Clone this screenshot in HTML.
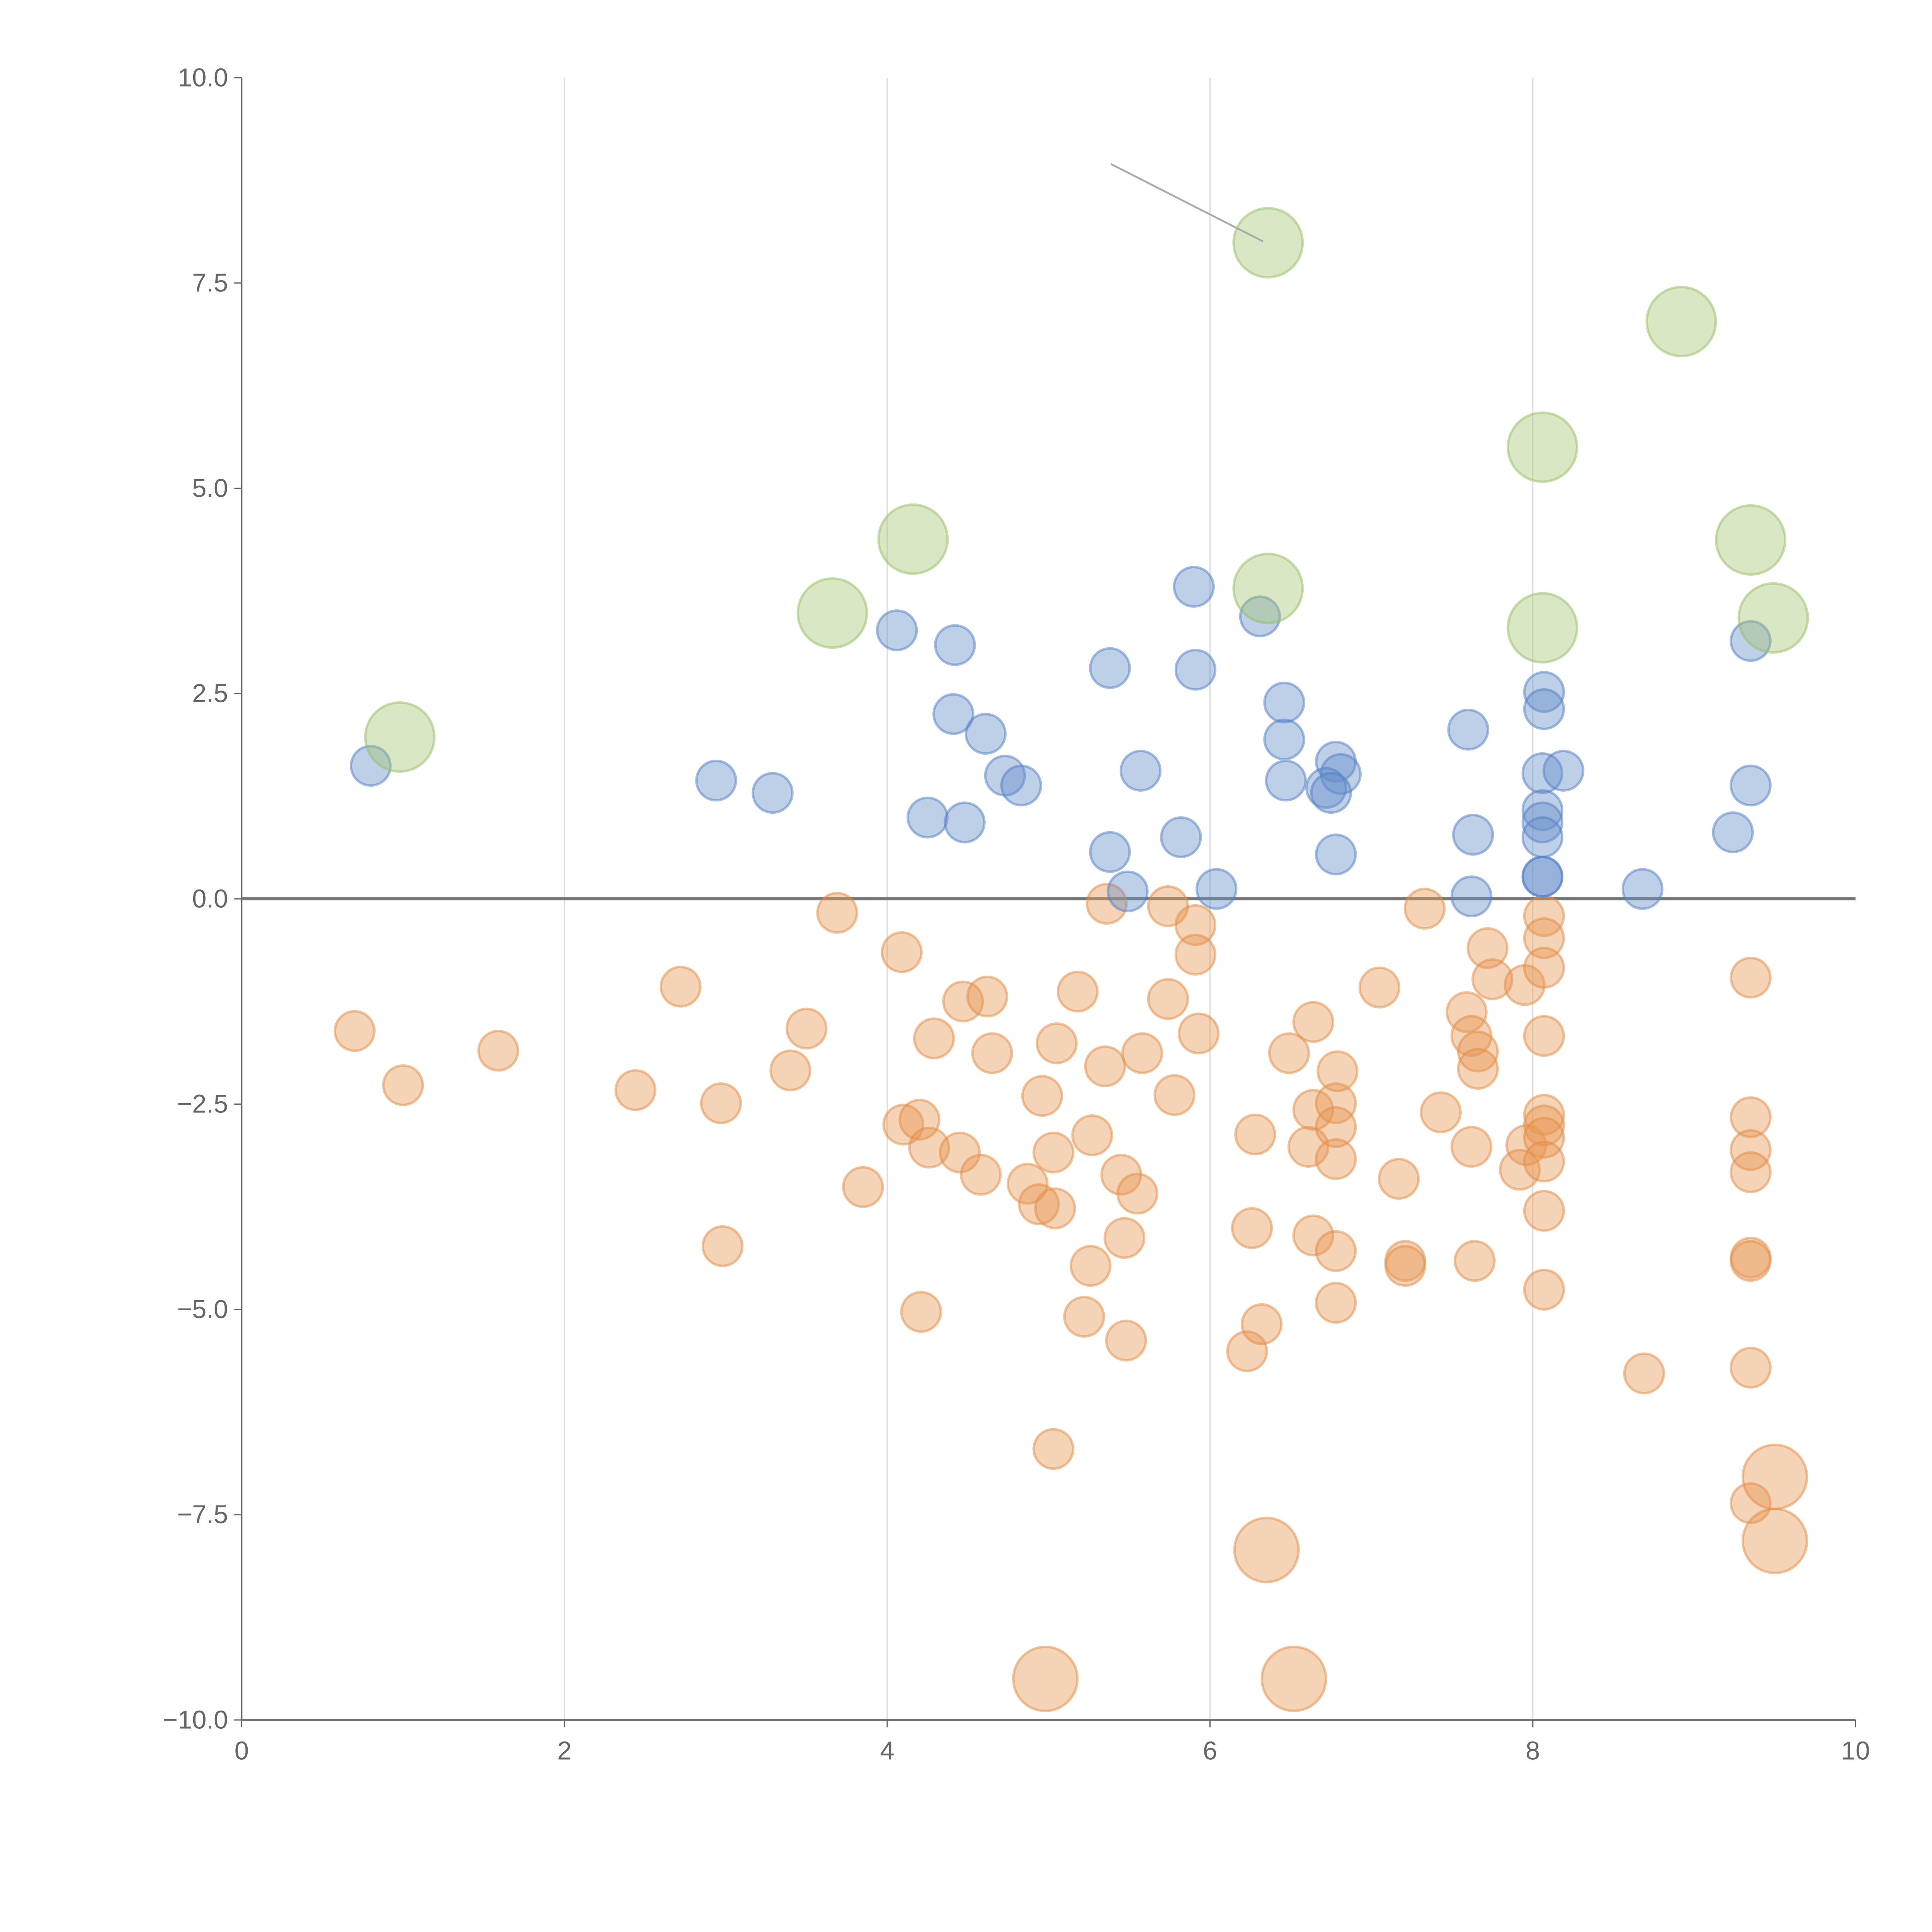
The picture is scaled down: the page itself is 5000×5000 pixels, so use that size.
<!DOCTYPE html>
<html><head><meta charset="utf-8"><style>
html,body{margin:0;padding:0;background:#fff;}
svg{display:block;}
text{font-family:"Liberation Sans",sans-serif;fill:#666;}
</style></head><body>
<svg id="chart" width="5000" height="5000" viewBox="0 0 1567 1567" xmlns="http://www.w3.org/2000/svg">
<g id="grid"></g>
<g id="axes"></g>
<g id="marks"></g>
</svg>
<script>
const xTicks=[0,2,4,6,8,10];
const yTicks=[10,7.5,5,2.5,0,-2.5,-5,-7.5,-10];
const yTickLabels=["10.0","7.5","5.0","2.5","0.0","\u22122.5","\u22125.0","\u22127.5","\u221210.0"];
const blueX=[0.80,2.94,3.29,4.06,4.42,4.41,4.61,4.25,4.48,4.73,4.83,5.38,5.90,6.31,5.91,5.57,5.82,5.38,5.49,6.04,6.46,6.46,6.47,6.78,6.81,6.72,6.75,6.78,7.60,7.63,7.62,8.07,8.07,8.06,8.19,8.06,8.06,8.06,8.06,8.06,8.68,9.24,9.35,9.35];
const blueY=[1.62,1.44,1.29,3.27,3.09,2.25,2.01,0.99,0.93,1.50,1.38,2.81,3.80,3.44,2.79,1.56,0.75,0.57,0.09,0.12,2.39,1.94,1.44,1.67,1.52,1.35,1.29,0.54,2.06,0.78,0.03,2.52,2.31,1.53,1.56,1.08,0.93,0.75,0.27,0.27,0.12,0.81,1.38,3.14];
const greenX=[0.98,3.66,4.16,6.36,6.36,8.06,8.06,8.92,9.35,9.49];
const greenY=[1.97,3.48,4.38,7.99,3.78,5.50,3.30,7.03,4.37,3.42];
const orangeX=[0.70,1.00,1.59,2.44,2.72,2.97,2.98,3.40,3.50,3.69,3.85,4.09,4.10,4.20,4.26,4.29,4.21,4.45,4.47,4.58,4.62,4.65,4.87,4.94,4.96,5.03,5.04,5.05,5.03,5.18,5.22,5.26,5.27,5.35,5.36,5.45,5.47,5.48,5.55,5.58,5.74,5.74,5.78,5.91,5.91,5.93,6.23,6.26,6.28,6.32,6.49,6.61,6.64,6.64,6.64,6.78,6.79,6.78,6.78,6.78,6.78,7.05,7.17,7.21,7.21,7.33,7.43,7.59,7.62,7.66,7.66,7.62,7.64,7.72,7.75,7.95,7.96,7.92,8.07,8.07,8.07,8.07,8.07,8.07,8.07,8.07,8.07,8.07,8.69,9.35,9.35,9.35,9.35,9.35,9.35,9.35,9.35];
const orangeY=[-1.61,-2.27,-1.85,-2.33,-1.07,-2.49,-4.23,-2.09,-1.58,-0.17,-3.51,-0.65,-2.75,-2.69,-3.03,-1.70,-5.03,-3.09,-1.25,-3.36,-1.19,-1.88,-3.47,-3.72,-2.40,-3.09,-3.77,-1.76,-6.70,-1.13,-5.09,-4.47,-2.88,-2.04,-0.06,-3.36,-4.13,-5.38,-3.59,-1.88,-0.09,-1.22,-2.39,-0.32,-0.68,-1.64,-5.51,-4.01,-2.87,-5.18,-1.88,-3.02,-1.50,-2.57,-4.10,-2.49,-2.10,-2.78,-3.17,-4.29,-4.92,-1.08,-3.41,-4.41,-4.47,-0.12,-2.60,-1.38,-1.67,-1.86,-2.07,-3.02,-4.41,-0.60,-0.98,-1.05,-3.00,-3.30,-0.21,-0.48,-0.84,-1.67,-2.63,-2.76,-2.91,-3.20,-3.80,-4.76,-5.78,-0.96,-2.66,-3.06,-3.33,-4.37,-4.41,-5.71,-7.36];
const bigOrangeX=[6.35,4.98,6.52,9.50,9.50];
const bigOrangeY=[-7.93,-9.50,-9.50,-7.04,-7.82];

const NS="http://www.w3.org/2000/svg";
const X0=196,X1=1505,Y0=1395,Y1=63;
function sx(v){return X0+(v-0)/(10-0)*(X1-X0);}
function sy(v){return Y0-(v+10)/20*(Y0-Y1);}
function mk(tag,attrs,parent){const e=document.createElementNS(NS,tag);for(const k in attrs)e.setAttribute(k,attrs[k]);parent.appendChild(e);return e;}
const grid=document.getElementById('grid'),axes=document.getElementById('axes'),marks=document.getElementById('marks');

xTicks.forEach(t=>{
  if(t>0&&t<10){const g=mk('line',{x1:sx(t),x2:sx(t),y1:Y1,y2:Y0,stroke:'#dcdcdc','stroke-width':1},grid);
  
  }
  const tk=mk('line',{x1:sx(t),x2:sx(t),y1:Y0,y2:Y0+6,stroke:'#666','stroke-width':1},axes);
  
  
  const lb=mk('text',{x:sx(t),y:Y0+32,'text-anchor':'middle','font-size':21},axes);
  lb.textContent=String(t);
  
  
});
yTicks.forEach((t,i)=>{
  const tk=mk('line',{x1:X0-6,x2:X0,y1:sy(t),y2:sy(t),stroke:'#666','stroke-width':1},axes);
  
  
  const lb=mk('text',{x:X0-11,y:sy(t)+7,'text-anchor':'end','font-size':21},axes);
  lb.textContent=yTickLabels[i];
  
  
});
const ya=mk('line',{x1:X0,x2:X0,y1:Y1,y2:Y0,stroke:'#666','stroke-width':1.2},axes);


const xa=mk('line',{x1:X0,x2:X1,y1:Y0,y2:Y0,stroke:'#666','stroke-width':1.2},axes);


const zl=mk('line',{x1:X0,x2:X1,y1:sy(0),y2:sy(0),stroke:'#777','stroke-width':2.5},axes);



function series(xs,ys,r,fill,stroke,name){
  xs.forEach((x,i)=>{
    const c=mk('circle',{cx:sx(x),cy:sy(ys[i]),r:r,fill:fill,stroke:stroke,'stroke-width':2},marks);
    
    
  });
}
series(orangeX,orangeY,16,'rgba(232,150,80,0.42)','rgba(225,140,70,0.5)','orange-bubble');
series(bigOrangeX,bigOrangeY,26,'rgba(232,150,80,0.42)','rgba(225,140,70,0.5)','large-orange-bubble');
series(blueX,blueY,16,'rgba(100,140,200,0.42)','rgba(80,125,195,0.5)','blue-bubble');
series(greenX,greenY,28,'rgba(160,195,110,0.4)','rgba(150,190,100,0.5)','green-bubble');

const ann=mk('line',{x1:901,y1:133,x2:sx(6.36)-4,y2:sy(7.99)-1,stroke:'#aaa','stroke-width':1.5},marks);


</script>
</body></html>
